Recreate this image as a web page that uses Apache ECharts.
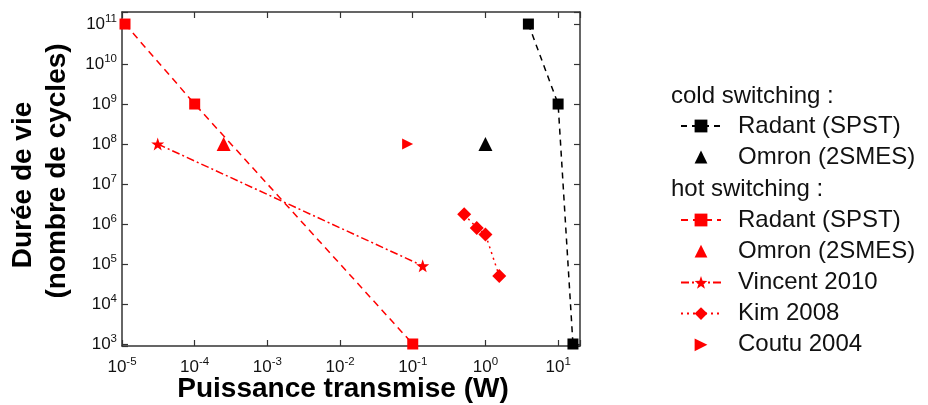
<!DOCTYPE html>
<html><head><meta charset="utf-8">
<script src="https://cdn.jsdelivr.net/npm/echarts@6/dist/echarts.min.js"></script>
<style>html,body{margin:0;padding:0;background:#fff}#c{width:928px;height:405px}</style>
</head><body><div id="c"></div>
<script>
// ---- data ----
const xTickExponents = [-5, -4, -3, -2, -1, 0, 1];
const yTickExponents = [3, 4, 5, 6, 7, 8, 9, 10, 11];
const coldRadant = [[3.9, 1e11], [10, 1e9], [16, 1e3]];
const coldOmron = [[1, 1e8]];
const hotRadant = [[1.1e-5, 1e11], [1e-4, 1e9], [0.1, 1e3]];
const hotOmron = [[2.5e-4, 1e8]];
const vincent2010 = [[3.1e-5, 1e8], [0.137, 9e4]];
const kim2008 = [[0.51, 1.75e6], [0.76, 8e5], [1.0, 5.5e5], [1.55, 5e4]];
const coutu2004 = [[0.085, 1e8]];
const coldHeader = 'cold switching :';
const hotHeader = 'hot switching :';
const coldKeys = ['cRadant', 'cOmron'];
const hotKeys = ['hRadant', 'hOmron', 'hVincent', 'hKim', 'hCoutu'];
const legendLabels = {
  cRadant: 'Radant (SPST)', cOmron: 'Omron (2SMES)',
  hRadant: 'Radant (SPST)', hOmron: 'Omron (2SMES)',
  hVincent: 'Vincent 2010', hKim: 'Kim 2008', hCoutu: 'Coutu 2004'
};
const xName = 'Puissance transmise (W)';
const yNameLine1 = 'Durée de vie';
const yNameLine2 = '(nombre de cycles)';

// ---- chart ----
const FONT = 'Liberation Sans, Arial, sans-serif';
const RED = '#ff0000';
const BLACK = '#000000';
const STAR = 'path://M0,-10 L2.35,-3.24 L9.51,-3.09 L3.8,1.24 L5.88,8.09 L0,4 L-5.88,8.09 L-3.8,1.24 L-9.51,-3.09 L-2.35,-3.24 Z';

function powLabel(list) {
  return function (v) {
    const e = Math.log10(v);
    const r = Math.round(e);
    if (Math.abs(e - r) > 1e-4 || list.indexOf(r) < 0) return '';
    return '{b|10}{s|' + r + '}';
  };
}
const rich = {
  b: { fontSize: 17, lineHeight: 22, fontFamily: FONT, color: '#111' },
  s: { fontSize: 11.5, lineHeight: 12, verticalAlign: 'top', fontFamily: FONT, color: '#111' }
};
const axisLine = { lineStyle: { color: '#333', width: 1.5 } };
const axisTick = { inside: true, length: 6, lineStyle: { color: '#333', width: 1.2 } };
const titleFont = { fontSize: 28, fontWeight: 'bold', fontFamily: FONT, color: '#000', lineHeight: 34 };
const YMIN = 891, YMAX = 2e11, XMIN = 1e-5, XMAX = 20;

const chart = echarts.init(document.getElementById('c'));
chart.setOption({
  animation: false,
  backgroundColor: '#fff',
  grid: { left: 122, right: 348, top: 12, bottom: 59, outerBoundsMode: 'none', containLabel: false },
  xAxis: [
    { type: 'log', logBase: 10, min: XMIN, max: XMAX, position: 'bottom',
      axisLine, axisTick, splitLine: { show: false },
      axisLabel: { formatter: powLabel(xTickExponents), rich, margin: 10 },
      name: xName, nameLocation: 'middle', nameGap: 28, nameMoveOverlap: false,
      nameTextStyle: Object.assign({}, titleFont, { lineHeight: 30, padding: [0, 16, 0, 0] }) },
    { type: 'log', logBase: 10, min: XMIN, max: XMAX, position: 'top',
      axisLine, axisTick, splitLine: { show: false }, axisLabel: { show: false } }
  ],
  yAxis: [
    { type: 'log', logBase: 10, min: YMIN, max: YMAX, position: 'left',
      axisLine, axisTick, splitLine: { show: false },
      axisLabel: { formatter: powLabel(yTickExponents), rich, margin: 5 },
      name: '{a|' + yNameLine1 + '}\n{c|' + yNameLine2 + '}', nameLocation: 'middle', nameGap: 48, nameRotate: 90,
      nameMoveOverlap: false,
      nameTextStyle: Object.assign({}, titleFont, {
        rich: {
          a: Object.assign({}, titleFont, { padding: [0, 12, 0, 0] }),
          c: Object.assign({}, titleFont, { padding: [0, 0, 0, 16] })
        }
      }) },
    { type: 'log', logBase: 10, min: YMIN, max: YMAX, position: 'right',
      axisLine, axisTick, splitLine: { show: false }, axisLabel: { show: false } }
  ],
  legend: [
    { orient: 'vertical', left: 675, top: 109, itemWidth: 40, itemHeight: 16, itemGap: 7,
      selectedMode: false, data: coldKeys, formatter: n => legendLabels[n],
      textStyle: { fontSize: 24, lineHeight: 24, fontFamily: FONT, color: '#111', padding: [0, 0, 0, 12] } },
    { orient: 'vertical', left: 675, top: 203, itemWidth: 40, itemHeight: 16, itemGap: 7.2,
      selectedMode: false, data: hotKeys, formatter: n => legendLabels[n],
      textStyle: { fontSize: 24, lineHeight: 24, fontFamily: FONT, color: '#111', padding: [0, 0, 0, 12] } }
  ],
  graphic: [
    { type: 'text', left: 671, top: 84, style: { text: coldHeader, font: '24px ' + FONT, fill: '#111' } },
    { type: 'text', left: 671, top: 177, style: { text: hotHeader, font: '24px ' + FONT, fill: '#111' } }
  ],
  series: [
    { name: 'cRadant', type: 'line', data: coldRadant, symbol: 'rect', symbolSize: 11,
      itemStyle: { color: BLACK }, lineStyle: { color: BLACK, width: 1.5, type: [6, 5] } },
    { name: 'cOmron', type: 'line', data: coldOmron, symbol: 'triangle', symbolSize: 14,
      itemStyle: { color: BLACK }, lineStyle: { opacity: 0 } },
    { name: 'hRadant', type: 'line', data: hotRadant, symbol: 'rect', symbolSize: 11,
      itemStyle: { color: RED }, lineStyle: { color: RED, width: 1.5, type: [7, 5] } },
    { name: 'hOmron', type: 'line', data: hotOmron, symbol: 'triangle', symbolSize: 14,
      itemStyle: { color: RED }, lineStyle: { opacity: 0 } },
    { name: 'hVincent', type: 'line', data: vincent2010, symbol: STAR, symbolSize: 13,
      itemStyle: { color: RED }, lineStyle: { color: RED, width: 1.5, type: [8, 3, 2, 3] } },
    { name: 'hKim', type: 'line', data: kim2008, symbol: 'diamond', symbolSize: 14,
      itemStyle: { color: RED }, lineStyle: { color: RED, width: 1.5, type: [2, 4] } },
    { name: 'hCoutu', type: 'line', data: coutu2004, symbol: 'triangle', symbolRotate: -90, symbolSize: 11,
      itemStyle: { color: RED }, lineStyle: { opacity: 0 } }
  ]
});
</script></body></html>
